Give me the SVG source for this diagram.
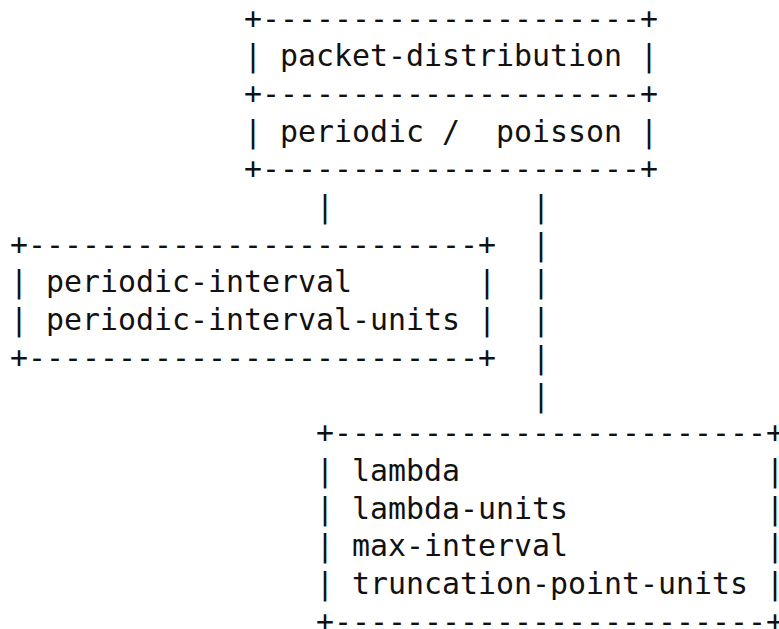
<svg xmlns="http://www.w3.org/2000/svg" width="779" height="629" viewBox="0 0 779 629" xml:space="preserve">
  <style>
    text { font-family: "DejaVu Sans Mono", "Liberation Mono", monospace; font-size: 29.9px; fill: #111; white-space: pre; }
  </style>
  <rect width="779" height="629" fill="#fff"/>
  <!-- character grid: column c starts at x = 10 + 18c; row r baseline at y = 28.5 + 37.7r -->

  <g id="node-packet-distribution">
    <text x="244" y="28.5">+---------------------+</text>
    <text x="244" y="66.2">| packet-distribution |</text>
    <text x="244" y="103.9">+---------------------+</text>
    <text x="244" y="141.6">| periodic /  poisson |</text>
    <text x="244" y="179.3">+---------------------+</text>
  </g>

  <g id="node-periodic">
    <text x="10" y="254.7">+-------------------------+</text>
    <text x="10" y="292.4">| periodic-interval       |</text>
    <text x="10" y="330.1">| periodic-interval-units |</text>
    <text x="10" y="367.8">+-------------------------+</text>
  </g>

  <g id="node-poisson">
    <text x="316" y="443.2">+------------------------+</text>
    <text x="316" y="480.9">| lambda                 |</text>
    <text x="316" y="518.6">| lambda-units           |</text>
    <text x="316" y="556.3">| max-interval           |</text>
    <text x="316" y="594.0">| truncation-point-units |</text>
    <text x="316" y="631.7">+------------------------+</text>
  </g>

  <g id="connectors">
    <!-- periodic branch -->
    <text x="316" y="217.0">|</text>
    <!-- poisson branch -->
    <text x="532" y="217.0">|</text>
    <text x="532" y="254.7">|</text>
    <text x="532" y="292.4">|</text>
    <text x="532" y="330.1">|</text>
    <text x="532" y="367.8">|</text>
    <text x="532" y="405.5">|</text>
  </g>
</svg>
